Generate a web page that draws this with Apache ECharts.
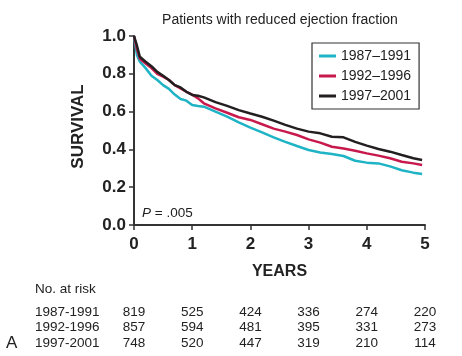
<!DOCTYPE html>
<html><head><meta charset="utf-8">
<script src="https://cdn.jsdelivr.net/npm/echarts@6/dist/echarts.min.js"></script>
<style>html,body{margin:0;padding:0;background:#fff}#c{width:462px;height:356px}</style>
</head><body><div id="c"></div>
<script>
const years = [0,0.05,0.1,0.2,0.3,0.4,0.5,0.6,0.7,0.8,0.9,1.0,1.1,1.2,1.4,1.6,1.8,2.0,2.2,2.4,2.6,2.8,3.0,3.2,3.4,3.6,3.8,4.0,4.2,4.4,4.6,4.8,4.95];
const s1987 = [1.0,0.90,0.864,0.83,0.79,0.767,0.74,0.72,0.69,0.667,0.658,0.635,0.63,0.626,0.60,0.573,0.543,0.515,0.49,0.464,0.44,0.418,0.397,0.384,0.376,0.365,0.34,0.33,0.326,0.31,0.29,0.277,0.27];
const s1992 = [1.0,0.93,0.88,0.855,0.83,0.80,0.785,0.767,0.74,0.723,0.705,0.69,0.67,0.644,0.617,0.594,0.57,0.556,0.533,0.51,0.494,0.476,0.453,0.436,0.414,0.405,0.393,0.379,0.367,0.353,0.335,0.326,0.317];
const s1997 = [1.0,0.95,0.89,0.864,0.84,0.81,0.79,0.767,0.74,0.728,0.705,0.688,0.684,0.675,0.65,0.63,0.608,0.59,0.573,0.552,0.53,0.51,0.494,0.485,0.467,0.464,0.44,0.42,0.402,0.388,0.37,0.353,0.344];
const seriesNames = ['1987\u20131991','1992\u20131996','1997\u20132001'];
const riskLabels = ['1987-1991','1992-1996','1997-2001'];
const riskYears = [0,1,2,3,4,5];
const risk1987 = [819,525,424,336,274,220];
const risk1992 = [857,594,481,395,331,273];
const risk1997 = [748,520,447,319,210,114];

const FONT = '"Liberation Sans", Arial, Helvetica, sans-serif';
const colors = ['#1fb3c6','#c8194d','#231f20'];
const chart = echarts.init(document.getElementById('c'), null, {renderer:'canvas'});
const pair = (ys) => years.map((x,i)=>[x, ys[i]]);
const mkSeries = (name, ys, c) => ({
  name, type:'line', data: pair(ys), showSymbol:false, symbol:'none',
  lineStyle:{color:c, width:2.5}, itemStyle:{color:c}, animation:false
});
chart.setOption({
  animation:false,
  textStyle:{fontFamily:FONT},
  title:{text:'Patients with reduced ejection fraction', left:275, top:8, textAlign:'center',
    textStyle:{fontSize:14, fontWeight:'normal', color:'#222', fontFamily:FONT}},
  grid:{left:134, right:37, top:36, bottom:131, containLabel:false},
  legend:{
    orient:'vertical', left:312, top:43,
    data: seriesNames.map(n=>({name:n, icon:'rect'})),
    itemWidth:17, itemHeight:3, itemGap:0,
    padding:[3,8,3,7],
    borderColor:'#333', borderWidth:1.2,
    textStyle:{fontSize:14, color:'#222', lineHeight:20, fontFamily:FONT}
  },
  xAxis:{type:'value', min:0, max:5, interval:1,
    name:'YEARS', nameLocation:'middle', nameGap:39,
    nameTextStyle:{fontSize:16, fontWeight:'bold', color:'#222', fontFamily:FONT},
    axisLine:{lineStyle:{color:'#333', width:2}},
    axisTick:{length:5, lineStyle:{color:'#333', width:1.5}},
    axisLabel:{fontSize:17, fontWeight:'bold', color:'#222', margin:11, fontFamily:FONT},
    splitLine:{show:false}},
  yAxis:{type:'value', min:0, max:1, interval:0.2,
    name:'SURVIVAL', nameLocation:'middle', nameGap:47,
    nameTextStyle:{fontSize:17, fontWeight:'bold', color:'#222', fontFamily:FONT, padding:[0,0,0,8]},
    axisLine:{show:true, lineStyle:{color:'#333', width:2}},
    axisTick:{show:true, length:5, lineStyle:{color:'#333', width:1.5}},
    axisLabel:{fontSize:17, fontWeight:'bold', color:'#222', margin:8, fontFamily:FONT,
      formatter:(v)=>v.toFixed(1)},
    splitLine:{show:false}},
  series:[mkSeries(seriesNames[0], s1987, colors[0]), mkSeries(seriesNames[1], s1992, colors[1]), mkSeries(seriesNames[2], s1997, colors[2])]
});

const g = [];
const tstyle = {fontSize:13.5, fill:'#222', fontFamily:FONT};
g.push({type:'text', left:142, top:206, style:{text:'{i|P} = .005', rich:{i:{fontStyle:'italic', fontSize:13.5, fontFamily:FONT, fill:'#222'}}, fontSize:13.5, fill:'#222', fontFamily:FONT}});
g.push({type:'text', left:35, top:282, style:Object.assign({text:'No. at risk'}, tstyle)});
const rows = [risk1987, risk1992, risk1997];
const rowY = [312, 327, 343];
rows.forEach((r, ri) => {
  g.push({type:'text', x:35, y:rowY[ri], style:Object.assign({text:riskLabels[ri], textVerticalAlign:'middle'}, tstyle)});
  r.forEach((v, ci) => {
    const px = chart.convertToPixel({xAxisIndex:0}, riskYears[ci]);
    g.push({type:'text', x:px, y:rowY[ri], style:Object.assign({text:String(v), textAlign:'center', textVerticalAlign:'middle'}, tstyle)});
  });
});
g.push({type:'text', x:6, y:343, style:{text:'A', fontSize:17, fill:'#222', fontFamily:FONT, textVerticalAlign:'middle'}});
chart.setOption({graphic:g});
</script></body></html>
